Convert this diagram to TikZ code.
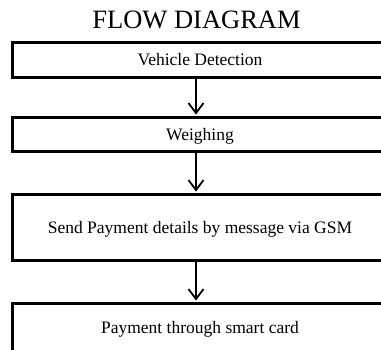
\documentclass[tikz,border=0pt]{standalone}
\usepackage{fontspec}
\setmainfont{Liberation Serif}
\usetikzlibrary{arrows.meta}
\begin{document}
\begin{tikzpicture}[x=1pt,y=-1pt,
  stepbox/.style={draw=black, line width=3pt, rectangle, minimum width=375pt,
    inner sep=0pt, text height=13pt, text depth=2pt,
    font=\fontsize{17.5}{20}\selectfont},
  arr/.style={line width=1.8pt, -{Straight Barb[length=10pt,width=15pt,line width=1.8pt]}, shorten >=1.5pt}
]
\useasboundingbox (0,0) rectangle (381,349);
\clip (0,0) rectangle (381,349);
\node[anchor=base, font=\fontsize{26.5}{30}\selectfont] (title) at (196.5,28) {FLOW DIAGRAM};
\node[stepbox, minimum height=35pt] (b1) at (200,60) {Vehicle Detection};
\node[stepbox, minimum height=34pt] (b2) at (200,134.5) {Weighing};
\node[stepbox, minimum height=66pt] (b3) at (200,227.5) {Send Payment details by message via GSM};
\node[stepbox, minimum height=54pt, text depth=8pt] (b4) at (200,330.5) {Payment through smart card};
\coordinate (ax) at (196,0);
\draw[arr] (b1.south -| ax) -- (b2.north -| ax);
\draw[arr] (b2.south -| ax) -- (b3.north -| ax);
\draw[arr] (b3.south -| ax) -- (b4.north -| ax);
\end{tikzpicture}
\end{document}
